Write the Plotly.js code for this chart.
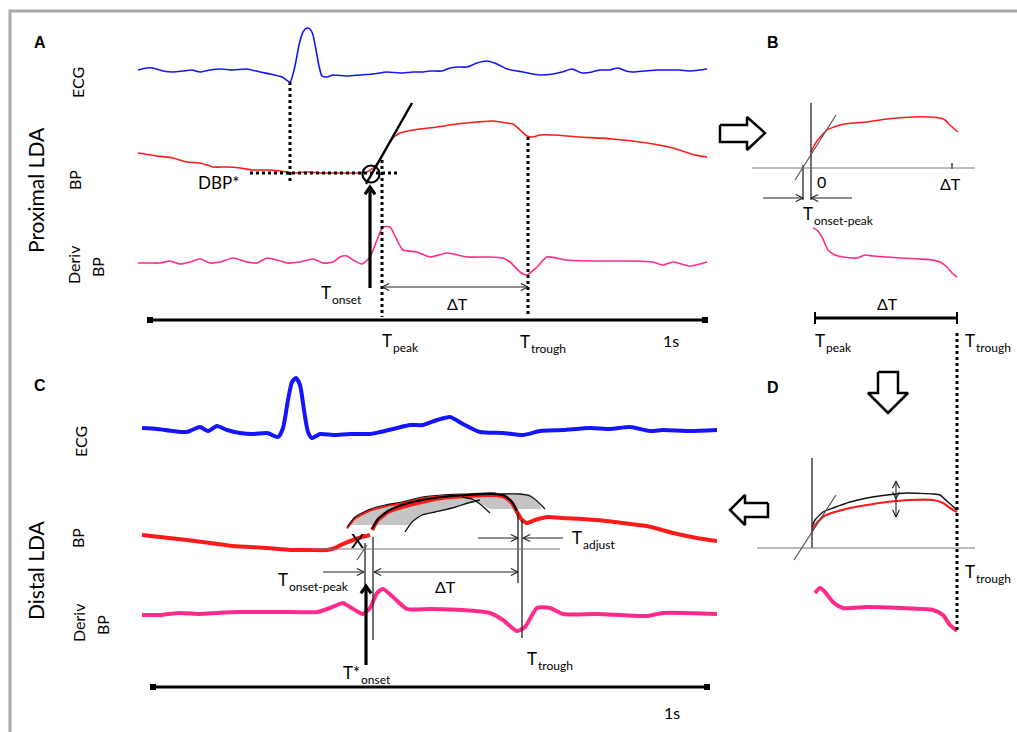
<!DOCTYPE html>
<html><head><meta charset="utf-8">
<script src="https://cdn.plot.ly/plotly-3.0.1.min.js"></script>
<style>html,body{margin:0;padding:0;background:#fff}#c{width:1017px;height:732px}</style>
</head><body><div id="c"></div>
<script>
// ---------- Panel A (proximal LDA) ----------
const ecgAx = [138,147,153,163,173,183,192,200,210,220,233,247,260,270,282,290,295,299,303,307,310,313,316,319,322,327,333,347,360,373,387,400,413,423,430,442,450,457,467,477,487,497,507,523,540,553,562,572,582,592,600,610,618,626,633,645,657,670,680,690,700,707];
const ecgAy = [70,68,68,71,72,71,70,72,70,69,70,69,72,74,77,82,66,45,32,28,29,35,50,66,76,77,75,76,75,74,72,73,72,72,71,71,68,67,67,63,61,64,69,72,75,74,72,69,73,72,70,70,68,71,72,71,70,70,70,71,70,69];
const bpAx = [138,157,173,187,200,213,227,240,253,267,280,293,307,320,333,347,360,367,373,380,387,393,400,413,437,457,477,493,507,513,520,527,533,540,553,580,613,647,673,695,707];
const bpAy = [153,156,158,162,163,167,167,168,170,170,171,173,172,173,173,173,173,172,168,160,147,138,133,130,127,124,122,121,123,124,130,136,137,135,135,137,139,143,148,155,157];
const dbpAx = [138,150,160,170,180,190,200,210,220,233,247,257,267,277,287,300,313,323,333,340,347,353,362,370,377,383,390,397,403,417,430,447,467,487,503,510,520,527,537,547,567,597,630,653,663,673,690,707];
const dbpAy = [263,263,263,261,264,262,259,263,262,258,262,263,258,260,263,262,259,263,262,257,256,260,264,257,240,227,227,240,250,252,257,253,257,257,258,262,272,275,267,257,260,261,261,262,265,262,266,262];

// ---------- Panel B (normalised proximal template) ----------
const bpBx = [811,814,817,822,827,834,840,853,867,887,913,930,940,945,950,958];
const bpBy = [152,146,141,135,130,127,125,123,122,119,117,117,118,120,125,132];
const dbpBx = [813,817,822,828,835,843,857,865,873,887,900,920,933,940,947,952,957];
const dbpBy = [228,230,237,250,255,257,258,255,256,257,258,259,260,262,267,273,277];

// ---------- Panel C (distal LDA) ----------
const ecgCx = [142,157,173,187,192,200,208,217,227,240,253,267,278,283,288,292,296,300,304,308,312,320,333,350,370,380,397,410,423,437,450,463,480,503,523,540,563,590,610,630,650,663,690,717];
const ecgCy = [428,429,431,432,430,427,431,426,430,433,434,433,437,428,400,382,378,385,410,432,438,434,435,434,434,432,428,425,425,420,417,424,432,433,435,431,430,428,429,427,431,430,431,430];
const bpC1x = [142,160,187,210,233,267,290,310,327,335,343,353,362,370];
const bpC1y = [535,537,540,543,546,548,550,550,550,548,544,540,537,535];
const bpC2x = [372,378,388,402,422,442,468,492,505,512,517,522,527,535,548,563,597,623,647,673,697,717];
const bpC2y = [530,520,512,507,502,498,496,495,497,503,512,520,523,520,517,518,520,523,526,533,538,541];
const beat1x = [347,355,368,385,402,422,442,468,495,505,512,517,519];
const beat1y = [527,517,510,505,502,497,495,494,493,496,502,512,518];
const beat2x = [372,378,388,402,422,442,468,492,505,512,517];
const beat2y = [529,519,511,505,500,497,495,494,496,502,511];
const beat3x = [405,412,422,435,452,468,480];
const beat3y = [532,522,515,512,508,503,500];
const beat4x = [462,472,480,490];
const beat4y = [497,499,504,513];
const beat5x = [500,520,530,537,545];
const beat5y = [494,494,496,501,509];
const bandX = [348,355,368,385,402,422,442,468,495,530,536,542,490,478,468,452,435,422,412,408];
const bandY = [525,517,510,505,502,497,495,494,493,494,499,509,509,502,503,508,512,515,522,525];
const dbpCx = [142,160,180,200,217,240,260,283,317,330,337,343,350,360,363,370,377,383,393,407,430,463,490,503,517,525,537,550,563,597,647,663,717];
const dbpCy = [615,615,613,614,613,612,612,612,612,608,605,603,607,613,614,608,593,589,597,609,609,610,613,620,631,627,608,608,614,614,616,613,614];

// ---------- Panel D (adjusted template) ----------
const tplDx = [812,815,823,833,850,867,887,907,933,940,948,957];
const tplDy = [527,520,512,508,502,498,495,493,494,495,502,510];
const bpDx = [812,816,824,835,850,867,887,910,933,943,950,957];
const bpDy = [531,524,516,512,508,505,502,500,500,503,508,512];
const dbpDx = [815,820,825,833,843,867,900,933,943,950,957];
const dbpDy = [593,588,592,602,608,607,608,610,615,625,631];

// ---------- block arrows ----------
const arrowBx = [720,747,747,765,747,747,720,720];
const arrowBy = [125,125,117,133,150,142,142,125];
const arrowDownX = [878,898,898,908,888,868,878,878];
const arrowDownY = [372,372,393,393,413,393,393,372];
const arrowLeftX = [768,745,745,730,745,745,768,768];
const arrowLeftY = [503,503,495,510,525,517,517,503];

// ---------- guide segments [x0,y0,x1,y1] ----------
const dottedSegs = [[290,82,290,182],[250,173,397,173],[382,160,382,317],[528,137,528,317],[957,333,957,632]];
const solidSegs = [[811,103,811,200],[803,165,803,200],[952,163,952,169],[365,543,365,590],[373,537,373,640],[518,512,518,583],[522,520,522,638],[812,458,812,548]];
const grayAxes = [[752,168,975,168],[312,549,560,549],[757,548,975,548]];
const tangents = [[366,184,412,103],[795,180,836,115],[357,560,367,545],[794,560,836,495]];
const timeBars = [[150,320,705,320],[153,687,707,687]];
const dtBar = [815,318,957,318];
// thin arrows [x0,y0,x1,y1,both]
const thinArrows = [[382,287,528,287,1],[763,198,803,198,0],[852,198,811,198,0],[323,572,364,572,0],[374,572,518,572,1],[478,538,518,538,0],[563,538,523,538,0],[896,499,896,481,1],[896,499,896,517,0]];
const boldArrows = [[370,288,370,187],[366,665,366,586]];
const onsetCircle = [371,174];

// ---------- labels ----------
const panelLetters = [['A',40,42],['B',773,42],['C',40,385],['D',773,387]];
const sideLabels = [['ECG',77,83],['BP',74,180],['Deriv',73,265],['BP',97,267],['ECG',80,442],['BP',77,538],['Deriv',78,623],['BP',102,625]];
const groupLabels = [['Proximal LDA',35,190],['Distal LDA',35,570]];
// [main, subscript, left x, centre y of main]
const subLabels = [['T','onset',320,292],['T','peak',381,340],['T','trough',519,341],['T','onset-peak',802,213],['T','peak',814,340],['T','trough',964,340],['T','onset-peak',277,579],['T','adjust',571,537],['T','trough',526,658],['T*','onset',342,672],['T','trough',964,571]];
const centerLabels = [['ΔT',457,303],['1s',671,340],['0',821,181],['ΔT',950,183],['ΔT',887,303],['X',357,540],['ΔT',445,586],['1s',672,712]];

// ================= build =================
const traces = [];
const BLUE='#1414ff', RED='#ff1a1a', PINK='#ff2a8a';
function ln(x,y,color,width,extra){traces.push({type:'scatter',mode:'lines',x:x,y:y,hoverinfo:'skip',line:Object.assign({color:color,width:width},extra||{})});}
function seg(s,color,width,extra){ln([s[0],s[2]],[s[1],s[3]],color,width,extra);}
function chev(tx,ty,fx,fy,L,ang,color,width){
  const dx=tx-fx, dy=ty-fy, n=Math.hypot(dx,dy), ux=dx/n, uy=dy/n, c=Math.cos(ang), s=Math.sin(ang);
  const p1=[tx-L*(ux*c-uy*s), ty-L*(uy*c+ux*s)], p2=[tx-L*(ux*c+uy*s), ty-L*(uy*c-ux*s)];
  ln([p1[0],tx,p2[0]],[p1[1],ty,p2[1]],color,width);
}
function poly(x,y,fill,lc,lw){traces.push({type:'scatter',mode:'lines',x:x,y:y,fill:'toself',fillcolor:fill,hoverinfo:'skip',line:{color:lc,width:lw}});}
const SP={shape:'spline',smoothing:0.6}, SP2={shape:'spline',smoothing:0.45};

// frame
ln([1017,10,10],[11,11,732],'#a9a9a9',3);

// A
ln(ecgAx,ecgAy,BLUE,1.6,SP);
ln(bpAx,bpAy,RED,1.6,SP);
ln(dbpAx,dbpAy,PINK,1.6,SP);
// B
ln(bpBx,bpBy,RED,1.5,SP);
ln(dbpBx,dbpBy,PINK,1.6,SP);
// C
poly(bandX,bandY,'#c4c4c4','rgba(0,0,0,0)',0);
ln(ecgCx,ecgCy,BLUE,4,SP);
ln(bpC1x,bpC1y,RED,4,SP);
ln(beat1x,beat1y.map(v=>v+1.5),RED,2,SP2);
ln(beat1x,beat1y,'#111',1.2,SP2);
ln(bpC2x,bpC2y,RED,4,SP2);
ln(beat2x,beat2y,'#000',2.2,SP2);
ln(beat3x,beat3y,'#111',1.3,SP2);
ln(beat4x,beat4y,'#111',1.3,SP2);
ln(beat5x,beat5y,'#111',1.3,SP2);
ln(dbpCx,dbpCy,PINK,4,SP);
// D
ln(bpDx,bpDy,RED,2.2,SP2);
ln(tplDx,tplDy,'#111',1.4,SP2);
ln(dbpDx,dbpDy,PINK,4,SP);

// guides
dottedSegs.forEach(s=>seg(s,'#000',3,{dash:'dot'}));
solidSegs.forEach(s=>seg(s,'#222',1.3));
grayAxes.forEach(s=>seg(s,'#777',1.2));
tangents.forEach((s,i)=>seg(s,i===0?'#000':'#555',i===0?2.5:1.2));
timeBars.forEach(s=>{seg(s,'#000',3);traces.push({type:'scatter',mode:'markers',x:[s[0],s[2]],y:[s[1],s[3]],hoverinfo:'skip',marker:{symbol:'square',size:6,color:'#000'}});});
seg(dtBar,'#000',3);
seg([dtBar[0],dtBar[1]-6,dtBar[0],dtBar[1]+6],'#000',2);
seg([dtBar[2],dtBar[3]-6,dtBar[2],dtBar[3]+6],'#000',2);
thinArrows.forEach(a=>{seg(a,'#222',1.1);chev(a[2],a[3],a[0],a[1],8,0.45,'#222',1.1);if(a[4])chev(a[0],a[1],a[2],a[3],8,0.45,'#222',1.1);});
boldArrows.forEach(a=>{seg(a,'#000',3.2);chev(a[2],a[3],a[0],a[1],9,0.6,'#000',3.2);});
traces.push({type:'scatter',mode:'markers',x:[onsetCircle[0]],y:[onsetCircle[1]],hoverinfo:'skip',marker:{symbol:'circle-open',size:17,color:'#000',line:{width:2.2,color:'#000'}}});
poly(arrowBx,arrowBy,'#fff','#000',2.5);
poly(arrowDownX,arrowDownY,'#fff','#000',2.5);
poly(arrowLeftX,arrowLeftY,'#fff','#000',2.5);

// annotations
const FAM='Lato';
const F=FAM+', "Open Sans", sans-serif';
const anns=[];
function ann(t,x,y,size,o){anns.push(Object.assign({text:t,x:x,y:y,xref:'x',yref:'y',showarrow:false,font:{family:F,size:size,color:'#000'},xanchor:'center',yanchor:'middle',borderpad:0},o||{}));}
const cv=document.createElement('canvas').getContext('2d');
function tw(t,size){cv.font=size+'px '+FAM;return cv.measureText(t).width;}
panelLetters.forEach(l=>ann(l[0],l[1],l[2],16,{font:{family:'"Liberation Sans", Arial, sans-serif',size:16,color:'#000',weight:'bold'}}));
sideLabels.forEach(l=>ann(l[0],l[1],l[2],16,{textangle:-90}));
groupLabels.forEach(l=>ann(l[0],l[1],l[2],21,{textangle:-90}));
const MS=17, SS=12;
subLabels.forEach(l=>{
  ann(l[0],l[2],l[3],MS,{xanchor:'left'});
  ann(l[1],l[2]+tw(l[0],MS)+0.5,l[3]+7,SS,{xanchor:'left'});
});
centerLabels.forEach(l=>ann(l[0],l[1],l[2],l[0]==='X'?20:16));
ann('DBP*',240,182,17,{xanchor:'right'});

Plotly.newPlot('c',traces,{
  width:1017,height:732,margin:{l:0,r:0,t:0,b:0},showlegend:false,
  paper_bgcolor:'#fff',plot_bgcolor:'#fff',
  xaxis:{range:[0,1017],visible:false,fixedrange:true},
  yaxis:{range:[732,0],visible:false,fixedrange:true},
  annotations:anns
},{staticPlot:true,displayModeBar:false});
</script></body></html>
